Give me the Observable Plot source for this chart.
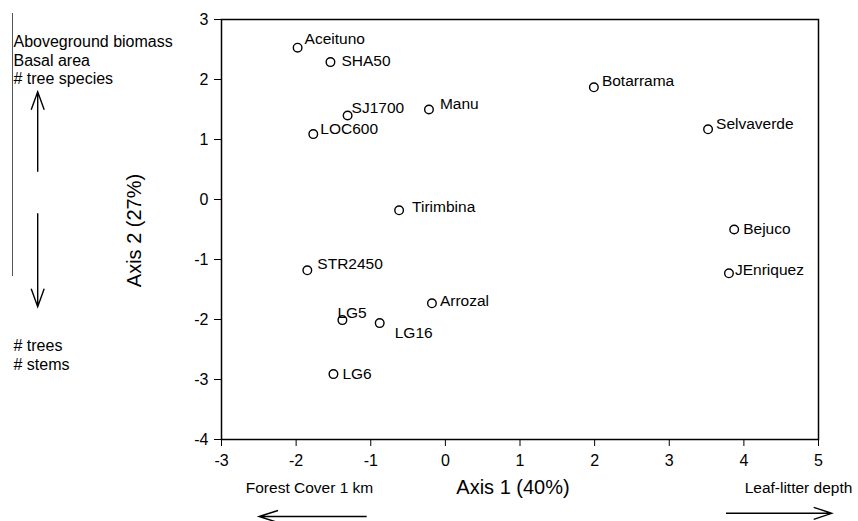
<!DOCTYPE html>
<html>
<head>
<meta charset="utf-8">
<script src="https://cdn.jsdelivr.net/npm/d3@7"></script>
<script src="https://cdn.jsdelivr.net/npm/@observablehq/plot@0.6"></script>
<style>
  html, body { margin: 0; padding: 0; background: white; }
  svg { overflow: visible; }
</style>
</head>
<body>
<div id="chart"></div>
<script>
// ---- data ----
const sites = ["Aceituno","SHA50","SJ1700","Manu","LOC600","Tirimbina","STR2450","Arrozal","LG5","LG16","LG6","Botarrama","Selvaverde","Bejuco","JEnriquez"];
const axis1 = [-1.98,-1.54,-1.31,-0.22,-1.77,-0.62,-1.85,-0.18,-1.38,-0.88,-1.50,1.99,3.52,3.87,3.80];
const axis2 = [2.53,2.29,1.40,1.50,1.09,-0.18,-1.18,-1.73,-2.01,-2.06,-2.91,1.87,1.17,-0.50,-1.23];
const xTicks = [-3,-2,-1,0,1,2,3,4,5];
const yTicks = [-4,-3,-2,-1,0,1,2,3];
const xTitle = "Axis 1 (40%)";
const yTitle = "Axis 2 (27%)";
const upperNote = "Aboveground biomass\nBasal area\n# tree species";
const lowerNote = "# trees\n# stems";
const leftNote = "Forest Cover 1 km";
const rightNote = "Leaf-litter depth";

// ---- label layout (pixel nudges, per site) ----
const labelNudge = [[7,-9],[11,-1],[4,-7],[11,-5],[7,-5],[13,-3],[10,-6],[8,-2],[-5,-7],[15,10],[9,0],[8,-6],[8,-5],[9,0],[6,-3]];

const font = "'Liberation Sans', Arial, sans-serif";
const W = 858, H = 521;
const mL = 221, mR = 40, mT = 19, mB = 82;

const labelMarks = sites.map((s, i) => Plot.text([i], {
  x: j => axis1[j], y: j => axis2[j], text: j => sites[j],
  textAnchor: "start", lineAnchor: "middle",
  dx: labelNudge[i][0], dy: labelNudge[i][1],
  fontSize: 15.5, fill: "black"
}));

const chart = Plot.plot({
  width: W, height: H,
  marginLeft: mL, marginRight: mR, marginTop: mT, marginBottom: mB,
  style: {fontFamily: font, fontSize: "16px", background: "white", color: "black", overflow: "visible"},
  x: {domain: [-3, 5], ticks: xTicks, tickSize: 7, tickPadding: 8, label: null, tickFormat: d => String(d)},
  y: {domain: [-4, 3], ticks: yTicks, tickSize: 7, tickPadding: 6, label: null, tickFormat: d => String(d)},
  marks: [
    Plot.frame({stroke: "black", strokeWidth: 1.5}),
    Plot.dot(sites.map((s, i) => i), {x: i => axis1[i], y: i => axis2[i], r: 4.3, stroke: "black", strokeWidth: 1.4, fill: "white"}),
    ...labelMarks,
    Plot.text([xTitle], {frameAnchor: "bottom", dx: -7, dy: 48, fontSize: 20, textAnchor: "middle", lineAnchor: "middle"}),
    Plot.text([yTitle], {frameAnchor: "left", dx: -87, dy: 1, rotate: -90, fontSize: 20, textAnchor: "middle", lineAnchor: "middle"}),
    Plot.text([leftNote], {frameAnchor: "bottom-left", dx: 88, dy: 49, fontSize: 15.5, textAnchor: "middle", lineAnchor: "middle"}),
    Plot.text([rightNote], {frameAnchor: "bottom-right", dx: -20, dy: 49, fontSize: 15.5, textAnchor: "middle", lineAnchor: "middle"}),
    Plot.text([upperNote], {frameAnchor: "top-left", dx: -208, dy: 14, fontSize: 16, textAnchor: "start", lineAnchor: "top", lineHeight: 1.17}),
    Plot.text([lowerNote], {frameAnchor: "top-left", dx: -208, dy: 318, fontSize: 16, textAnchor: "start", lineAnchor: "top", lineHeight: 1.17})
  ]
});

document.getElementById("chart").appendChild(chart);

// ---- decorative arrows & bracket line (annotations outside the frame) ----
const svg = d3.select(chart);
const g = svg.append("g").attr("fill", "none");
g.append("line").attr("x1", 12.5).attr("x2", 12.5).attr("y1", 13).attr("y2", 276)
  .attr("stroke", "#555").attr("stroke-width", 1);
function arrow(x1, y1, x2, y2, len, half) {
  const a = Math.atan2(y2 - y1, x2 - x1);
  const bx = x2 - len * Math.cos(a), by = y2 - len * Math.sin(a);
  const px = -Math.sin(a) * half, py = Math.cos(a) * half;
  g.append("path")
    .attr("d", `M${x1},${y1}L${x2},${y2}M${bx + px},${by + py}L${x2},${y2}L${bx - px},${by - py}`)
    .attr("stroke", "black").attr("stroke-width", 1.4);
}
arrow(37.7, 171.7, 37.7, 91.7, 18, 6.5);
arrow(37.7, 213.3, 37.7, 306.7, 18, 6.5);
arrow(366.7, 516.5, 259, 516.5, 19, 6);
arrow(726, 513.3, 831.7, 513.3, 18, 6);
</script>
</body>
</html>
